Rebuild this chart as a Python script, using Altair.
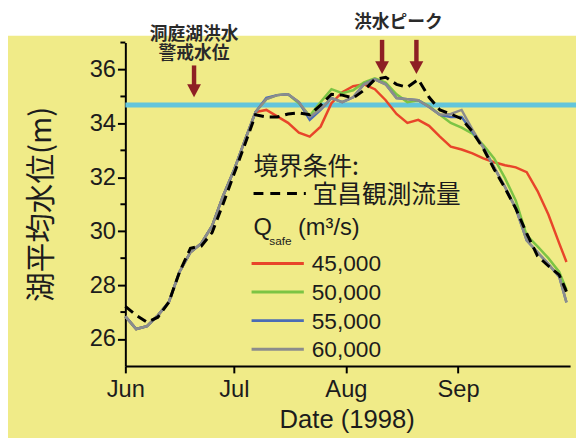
import altair as alt
import pandas as pd

# ---------------- data ----------------
DATES = [
    "1998-06-01", "1998-06-04", "1998-06-07", "1998-06-10", "1998-06-13", "1998-06-16",
    "1998-06-19", "1998-06-22", "1998-06-25", "1998-06-28", "1998-07-01", "1998-07-04",
    "1998-07-07", "1998-07-10", "1998-07-13", "1998-07-16", "1998-07-19", "1998-07-22",
    "1998-07-25", "1998-07-28", "1998-07-31", "1998-08-03", "1998-08-06", "1998-08-09",
    "1998-08-12", "1998-08-15", "1998-08-18", "1998-08-21", "1998-08-24", "1998-08-27",
    "1998-08-30", "1998-09-02", "1998-09-05", "1998-09-08", "1998-09-11", "1998-09-14",
    "1998-09-17", "1998-09-20", "1998-09-23", "1998-09-26", "1998-09-29", "1998-10-01",
]
OBSERVED = [27.21, 26.88, 26.62, 26.81, 27.36, 28.49, 29.37, 29.45, 29.95, 31.00, 32.10, 33.20,
            34.32, 34.24, 34.24, 34.35, 34.39, 34.32, 34.68, 35.08, 35.05, 34.94, 35.23, 35.63,
            35.71, 35.45, 35.34, 35.63, 34.97, 34.50, 34.35, 34.17, 33.69, 33.07, 32.30, 31.60,
            30.84, 29.92, 29.08, 28.71, 28.38, 27.76]
Q45000 = [26.84, 26.37, 26.48, 26.88, 27.36, 28.50, 29.22, 29.55, 30.20, 31.30, 32.25, 33.35,
          34.42, 34.50, 34.26, 34.02, 33.66, 33.51, 33.88, 34.75, 35.16, 35.38, 35.45, 35.27,
          34.86, 34.35, 34.02, 34.13, 33.91, 33.51, 33.14, 33.03, 32.89, 32.70, 32.56, 32.45,
          32.37, 32.19, 31.49, 30.62, 29.55, 28.86]
Q50000 = [26.84, 26.37, 26.48, 26.88, 27.36, 28.50, 29.22, 29.55, 30.20, 31.30, 32.25, 33.35,
          34.42, 34.90, 35.05, 35.08, 34.75, 34.28, 34.79, 35.27, 35.12, 35.23, 35.52, 35.67,
          35.52, 35.08, 34.79, 34.86, 34.64, 34.32, 34.02, 33.84, 33.62, 33.20, 32.70, 31.97,
          31.13, 29.85, 29.44, 29.00, 28.49, 27.83]
Q55000 = [26.84, 26.37, 26.48, 26.88, 27.36, 28.50, 29.22, 29.55, 30.20, 31.30, 32.25, 33.35,
          34.42, 34.95, 35.05, 35.08, 34.79, 34.13, 34.50, 34.94, 34.79, 34.97, 35.45, 35.63,
          35.45, 34.94, 34.90, 34.86, 34.61, 34.32, 34.24, 34.24, 33.69, 33.11, 32.37, 31.64,
          30.84, 29.66, 29.22, 28.78, 28.31, 27.36]
Q60000 = [26.84, 26.37, 26.48, 26.88, 27.36, 28.50, 29.22, 29.55, 30.20, 31.30, 32.25, 33.35,
          34.42, 34.90, 35.05, 35.08, 34.79, 34.24, 34.53, 34.94, 34.79, 34.97, 35.45, 35.63,
          35.45, 34.94, 34.90, 34.86, 34.61, 34.32, 34.35, 34.50, 33.77, 33.11, 32.37, 31.64,
          30.84, 29.66, 29.22, 28.78, 28.31, 27.36]

SERIES_LABELS = ["45,000", "50,000", "55,000", "60,000"]
SERIES_VALUES = [Q45000, Q50000, Q55000, Q60000]
SERIES_COLORS = ["#e8452a", "#7cc444", "#4b6cb5", "#8c8c8c"]

WARNING_LEVEL = [34.68]
Y_TICKS = [26, 28, 30, 32, 34, 36]
Y_MINOR = [27, 29, 31, 33, 35, 37]
X_TICK_MONTHS = [6, 7, 8, 9]

ARROW_DATES = ["1998-06-20", "1998-08-11", "1998-08-20T12:00:00Z"]
ARROW_TOP = [36.15, 37.10, 37.10]
ARROW_HEAD = [35.21, 36.07, 36.07]

NOTE_TEXT = ["洞庭湖洪水\n警戒水位", "洪水ピーク"]
NOTE_DATES = ["1998-06-20", "1998-08-15T12:00:00Z"]
NOTE_Y = [37.26, 37.72]

Y_TITLE = "湖平均水位(m)"
X_TITLE = "Date (1998)"
LEGEND_HEAD = "境界条件:"
LEGEND_OBS = "宜昌観測流量"
LEGEND_Q = "Q"
LEGEND_SUB = "safe"
LEGEND_UNIT = "(m³/s)"

# ---------------- styling ----------------
BG = "#f0eb88"
ARROW = "#8e1f24"
CYAN = "#63c5da"
TXT = "#1c1c1c"
CJK = "Noto Sans CJK JP"
LAT = "Liberation Sans"

W, H = 451, 328

X_DOMAIN = [alt.DateTime(year=1998, month=6, date=1, utc=True),
            alt.DateTime(year=1998, month=10, date=2, utc=True)]
X_AXIS = alt.Axis(
    values=[alt.DateTime(year=1998, month=m, date=1, utc=True) for m in X_TICK_MONTHS],
    format="%b", labelFont=LAT, labelFontSize=24, labelColor=TXT, labelPadding=5,
    labelFlush=False, tickSize=7, tickWidth=2, tickColor="black",
    domainColor="black", domainWidth=2, grid=False, title=None,
)
Y_AXIS = alt.Axis(
    values=Y_TICKS, labelFont=LAT, labelFontSize=24, labelColor=TXT, labelPadding=2,
    tickSize=8, tickWidth=2, tickColor="black", domainColor="black", domainWidth=2,
    grid=False, title=None,
)


def X(field="date"):
    return alt.X(f"{field}:T", scale=alt.Scale(type="utc", domain=X_DOMAIN), axis=X_AXIS)


def Y(field="value"):
    return alt.Y(f"{field}:Q", scale=alt.Scale(domain=[25, 37], nice=False, zero=False), axis=Y_AXIS)


ONE = pd.DataFrame({"k": [0]})
layers = []

# white strip at the top of the picture
layers.append(
    alt.Chart(ONE).mark_rect(color="white").encode(
        x=alt.value(-130), x2=alt.value(470), y=alt.value(-45), y2=alt.value(-7)
    )
)

# warning level line
layers.append(
    alt.Chart(pd.DataFrame({"value": WARNING_LEVEL})).mark_rule(color=CYAN, strokeWidth=5).encode(
        y=Y(), x=alt.value(0), x2=alt.value(457)
    )
)

# minor ticks on the y axis
layers.append(
    alt.Chart(pd.DataFrame({"value": Y_MINOR})).mark_rule(color="black", strokeWidth=2).encode(
        y=Y(), x=alt.value(-5), x2=alt.value(0)
    )
)

# simulated series
for vals, col in zip(SERIES_VALUES, SERIES_COLORS):
    d = pd.DataFrame({"date": DATES, "value": vals})
    layers.append(alt.Chart(d).mark_line(color=col, strokeWidth=2.5).encode(x=X(), y=Y()))

# observed (dashed)
layers.append(
    alt.Chart(pd.DataFrame({"date": DATES, "value": OBSERVED})).mark_line(
        color="black", strokeWidth=3, strokeDash=[10, 6]
    ).encode(x=X(), y=Y())
)

# arrows
arrows = pd.DataFrame({"date": ARROW_DATES, "top": ARROW_TOP, "head": ARROW_HEAD})
layers.append(
    alt.Chart(arrows).mark_rule(color=ARROW, strokeWidth=4.5).encode(
        x=X(), y=Y("top"), y2="head:Q"
    )
)
layers.append(
    alt.Chart(arrows).mark_point(
        shape="M-1,-0.93L1,-0.93L0,0.93Z", filled=True, size=196, color=ARROW, opacity=1, strokeWidth=0
    ).encode(x=X(), y=Y("head"))
)

# annotation texts
layers.append(
    alt.Chart(pd.DataFrame({"date": NOTE_DATES, "value": NOTE_Y, "t": NOTE_TEXT})).mark_text(
        font=CJK, fontSize=18, fontWeight="bold", color="#2a2a2a", align="center",
        baseline="middle", lineBreak="\n", lineHeight=19
    ).encode(x=X(), y=Y(), text="t:N")
)

# ---------------- manual legend ----------------
def txt(s, x, y, size, font=CJK, align="left"):
    return alt.Chart(ONE).mark_text(
        text=s, font=font, fontSize=size, color=TXT, align=align, baseline="middle"
    ).encode(x=alt.value(x), y=alt.value(y))


layers.append(txt(LEGEND_HEAD, 130, 126, 25))
layers.append(
    alt.Chart(ONE).mark_rule(color="black", strokeWidth=3, strokeDash=[10, 7]).encode(
        x=alt.value(130), x2=alt.value(183), y=alt.value(153)
    )
)
layers.append(txt(LEGEND_OBS, 190, 155, 25))
layers.append(txt(LEGEND_Q, 130, 188, 24, LAT))
layers.append(txt(LEGEND_SUB, 146, 201, 12, LAT))
layers.append(txt(LEGEND_UNIT, 175, 188, 24, LAT))

for i, (lab, col) in enumerate(zip(SERIES_LABELS, SERIES_COLORS)):
    yy = 224 + 29 * i
    layers.append(
        alt.Chart(ONE).mark_rule(color=col, strokeWidth=3).encode(
            x=alt.value(128), x2=alt.value(181), y=alt.value(yy)
        )
    )
    layers.append(txt(lab, 189, yy + 1, 23, LAT))

# axis titles
layers.append(
    alt.Chart(ONE).mark_text(
        text=Y_TITLE, font=CJK, fontSize=30, color=TXT, angle=270, align="center", baseline="middle"
    ).encode(x=alt.value(-84), y=alt.value(164))
)
layers.append(txt(X_TITLE, 225, 383, 26, LAT, align="center"))

chart = alt.layer(*layers).properties(
    width=W, height=H,
    autosize=alt.AutoSizeParams(type="none"),
    padding={"left": 119, "top": 32, "right": 6, "bottom": 70},
    background=BG,
).configure_view(strokeWidth=0)

chart.save("out.html", embed_options={"renderer": "svg", "actions": False})
